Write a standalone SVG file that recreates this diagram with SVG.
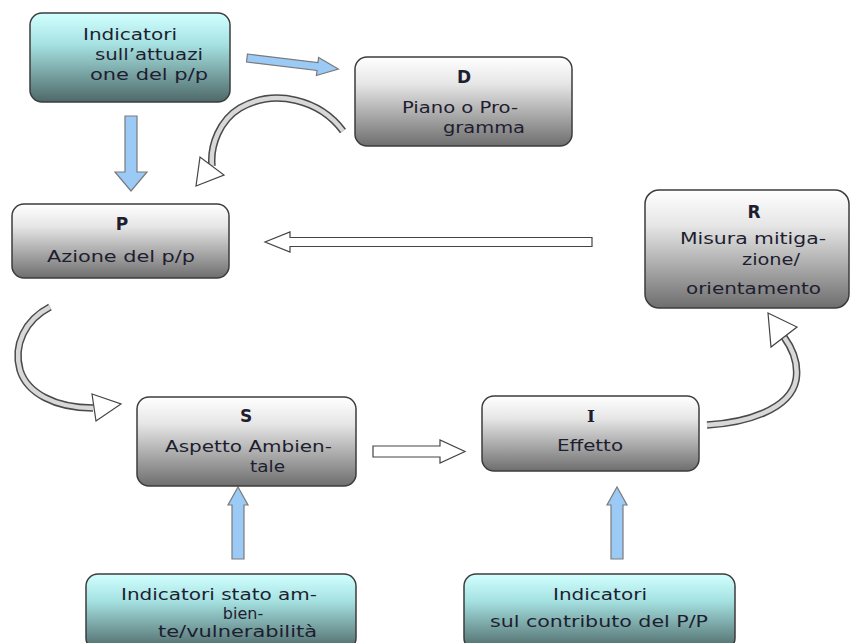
<svg xmlns="http://www.w3.org/2000/svg" width="851" height="643" viewBox="0 0 851 643">
<defs>
<linearGradient id="gGray" x1="0" y1="0" x2="0" y2="1">
<stop offset="0" stop-color="#ffffff"/>
<stop offset="0.3" stop-color="#e6e6e6"/>
<stop offset="1" stop-color="#6e6e6e"/>
</linearGradient>
<linearGradient id="gCyan" x1="0" y1="0" x2="0" y2="1">
<stop offset="0" stop-color="#d2ffff"/>
<stop offset="0.35" stop-color="#a6e2e2"/>
<stop offset="1" stop-color="#4e6868"/>
</linearGradient>
<style>
.box{stroke:#3c3c3c;stroke-width:1.5}
.gray{fill:url(#gGray)}
.cyan{fill:url(#gCyan)}
.t{font-family:"DejaVu Sans",Verdana,sans-serif;font-size:16px;fill:#1e1e30}
.b{font-weight:bold;text-anchor:middle;font-size:17px}
.blue{fill:#9ccaf6;stroke:#7a7a7a;stroke-width:1.2}
.hollow{fill:#ffffff;stroke:#444;stroke-width:1.2}
.bandO{fill:none;stroke:#4a4a4a;stroke-width:7.5}
.bandI{fill:none;stroke:#d8d8d8;stroke-width:4.5}
</style>
</defs>
<rect width="851" height="643" fill="#ffffff"/>

<g id="connectors">
<polygon class="blue" transform="translate(247,58) rotate(6.9)" points="0,-4 71,-4 71,-9 92,0 71,9 71,4 0,4"/>
<polygon class="blue" points="125,116 137,116 137,172 147,172 131,191 115,172 125,172"/>
<polygon class="blue" points="232,559 244,559 244,505 248,505 238,487 228,505 232,505"/>
<polygon class="blue" points="611,559 623,559 623,505 627,505 617,487 607,505 611,505"/>
<polygon class="hollow" points="373,446 440,446 440,440 465,451.5 440,463 440,457 373,457"/>
<polygon class="hollow" points="592,237.5 290,237.5 290,232 265,242 290,252 290,246.5 592,246.5"/>
<path class="bandO" d="M343,131 C320,100 275,88 240,108 C220,120 210,145 212,166"/>
<path class="bandI" d="M343,131 C320,100 275,88 240,108 C220,120 210,145 212,166"/>
<polygon class="hollow" points="196,186 224,175 200,157"/>
<path class="bandO" d="M50,307 C25,320 13,345 20,370 C27,393 55,408 93,408"/>
<path class="bandI" d="M50,307 C25,320 13,345 20,370 C27,393 55,408 93,408"/>
<polygon class="hollow" points="92,394 121,404 96,421"/>
<path class="bandO" d="M707,425 C745,423 790,410 796,380 C799,362 792,348 784,337"/>
<path class="bandI" d="M707,425 C745,423 790,410 796,380 C799,362 792,348 784,337"/>
<polygon class="hollow" points="768,313 797,327 771,347"/>
</g>

<g id="node-ind-attuazione">
<rect class="box cyan" x="30" y="13" width="200" height="89" rx="12"/>
<text class="t" x="83" y="40" textLength="94" lengthAdjust="spacingAndGlyphs">Indicatori</text>
<text class="t" x="95" y="60" textLength="108" lengthAdjust="spacingAndGlyphs">sull’attuazi</text>
<text class="t" x="90" y="80" textLength="118" lengthAdjust="spacingAndGlyphs">one del p/p</text>
</g>

<g id="node-D">
<rect class="box gray" x="355" y="57" width="217" height="89" rx="12"/>
<text class="t b" x="464" y="83">D</text>
<text class="t" x="402" y="113" textLength="116" lengthAdjust="spacingAndGlyphs">Piano o Pro-</text>
<text class="t" x="443" y="133" textLength="82" lengthAdjust="spacingAndGlyphs">gramma</text>
</g>

<g id="node-P">
<rect class="box gray" x="12" y="204" width="217" height="74" rx="12"/>
<text class="t b" x="122" y="230">P</text>
<text class="t" x="47" y="262" textLength="148" lengthAdjust="spacingAndGlyphs">Azione del p/p</text>
</g>

<g id="node-R">
<rect class="box gray" x="645" y="190" width="204" height="118" rx="14"/>
<text class="t b" x="754" y="218">R</text>
<text class="t" x="680" y="244" textLength="146" lengthAdjust="spacingAndGlyphs">Misura mitiga-</text>
<text class="t" x="742" y="265" textLength="58" lengthAdjust="spacingAndGlyphs">zione/</text>
<text class="t" x="686" y="294" textLength="135" lengthAdjust="spacingAndGlyphs">orientamento</text>
</g>

<g id="node-S">
<rect class="box gray" x="137" y="397" width="219" height="89" rx="12"/>
<text class="t b" x="246" y="422">S</text>
<text class="t" x="165" y="452" textLength="167" lengthAdjust="spacingAndGlyphs">Aspetto Ambien-</text>
<text class="t" x="250" y="472" textLength="35" lengthAdjust="spacingAndGlyphs">tale</text>
</g>

<g id="node-I">
<rect class="box gray" x="482" y="396" width="217" height="75" rx="12"/>
<text class="t b" x="591" y="422" style="font-family:'DejaVu Serif',serif">I</text>
<text class="t" x="557" y="451" textLength="66" lengthAdjust="spacingAndGlyphs">Effetto</text>
</g>

<g id="node-ind-stato">
<rect class="box cyan" x="86" y="574" width="270" height="76" rx="12"/>
<text class="t" x="121" y="600" textLength="196" lengthAdjust="spacingAndGlyphs">Indicatori stato am-</text>
<text class="t" x="243" y="619" text-anchor="middle">bien-</text>
<text class="t" x="158" y="637" textLength="159" lengthAdjust="spacingAndGlyphs">te/vulnerabilità</text>
</g>

<g id="node-ind-contributo">
<rect class="box cyan" x="464" y="574" width="271" height="76" rx="12"/>
<text class="t" x="553" y="600" textLength="94" lengthAdjust="spacingAndGlyphs">Indicatori</text>
<text class="t" x="490" y="627" textLength="218" lengthAdjust="spacingAndGlyphs">sul contributo del P/P</text>
</g>
</svg>
